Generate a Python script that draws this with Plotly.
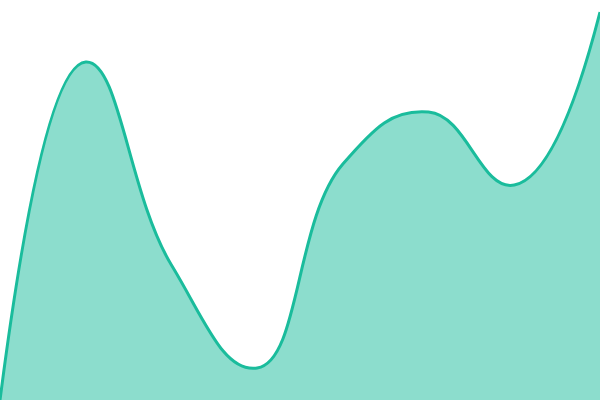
import plotly.graph_objects as go

x_vals = [0, 1, 2, 3, 4, 5, 6, 7]
y_vals = [0, 338, 135, 32, 236, 288, 215, 388]

fig = go.Figure()
fig.add_trace(go.Scatter(x=x_vals, y=y_vals, mode="lines",
                         line=dict(color="#1abc9c", width=3, shape="spline", smoothing=1.3),
                         fill="tozeroy", fillcolor="rgba(26,188,156,0.5)",
                         hoverinfo="skip"))
fig.update_layout(width=600, height=400, margin=dict(l=0, r=0, t=0, b=0),
                  plot_bgcolor="white", paper_bgcolor="white", showlegend=False)
fig.update_xaxes(visible=False, range=[0, 7])
fig.update_yaxes(visible=False, range=[0, 400])
# drop the default body margin so the plot sits flush in the window
fig.write_html("out.html", config={"displayModeBar": False},
               post_script="document.body.style.margin='0';")
